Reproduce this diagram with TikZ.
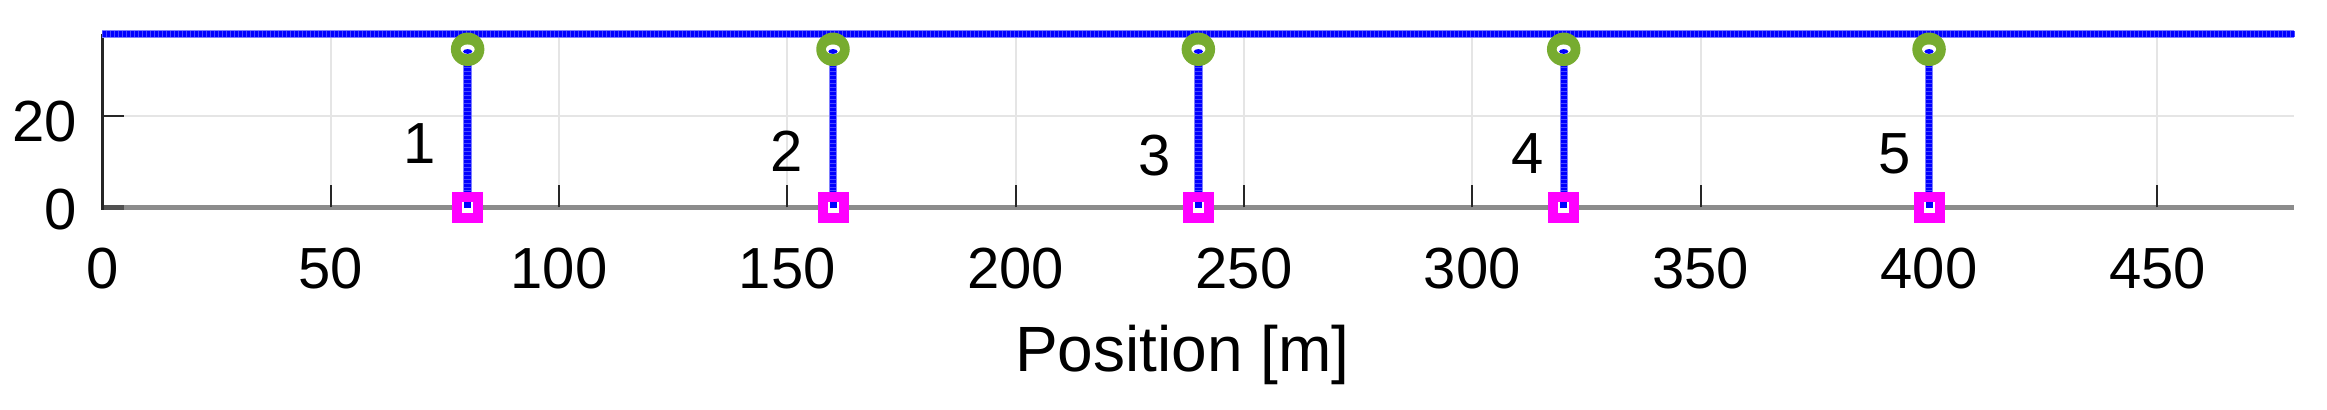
\documentclass[tikz,border=0pt]{standalone}
\usepackage{fontspec}
\setmainfont{Liberation Sans}
\usetikzlibrary{calc}
\definecolor{mgreen}{HTML}{77AC30}
\definecolor{mblue}{HTML}{0000FF}
\definecolor{mlblue}{HTML}{7F7FFF}
\definecolor{mmag}{HTML}{FF00FF}
\definecolor{mgrid}{HTML}{E5E5E5}
\definecolor{mground}{HTML}{8C8C8C}
\definecolor{maxis}{HTML}{262626}
\begin{document}
\begin{tikzpicture}[x=2.2835pt,y=2.2835pt,
  lbl/.style={font=\fontsize{29}{34}\selectfont, text=black, inner sep=0pt, anchor=base},
  ttl/.style={font=\fontsize{32}{38}\selectfont, text=black, inner sep=0pt, anchor=base},
  gridline/.style={draw=mgrid, line width=1pt},
  tickline/.style={draw=maxis, line width=1pt},
  bluehalo/.style={draw=mlblue, line width=4.2pt},
  bluecore/.style={draw=mblue, line width=3.2pt},
  bluetex/.style={draw=blue!72!white, line width=3.2pt, dash pattern=on 0.4pt off 1.6pt},
  topmark/.style={circle, fill=mgreen, minimum size=16.75pt, inner sep=0pt},
  botmark/.style={rectangle, fill=mmag, minimum size=15.5pt, inner sep=0pt}]
\useasboundingbox (-22.4,-44.17) rectangle (487.14,45.39);
% grid
\foreach \gx in {50,100,...,450} \draw[gridline] (\gx,0) -- (\gx,38);
\draw[gridline] (0,20) -- (480,20);
% ground line
\draw[draw=mground, line width=2.5pt] (0,0) -- (480,0);
% ticks
\foreach \gx in {50,100,...,450} \draw[tickline] (\gx,0) -- (\gx,4.8);
\draw[tickline] (0,20) -- (4.8,20);
\draw[draw=maxis!80!white, line width=2.5pt] (0,0) -- (4.8,0);
% left axis
\draw[draw=maxis, line width=1.5pt] (0,-0.55) -- (0,38);
% top wire
\coordinate (wl) at (0,38);
\coordinate (wr) at (480,38);
\draw[bluehalo] (wl) -- (wr);
\draw[bluecore] (wl) -- (wr);
\draw[bluetex] (wl) -- (wr);
% stems and markers
\foreach \i/\px in {1/80,2/160,3/240,4/320,5/400} {
  \coordinate (b\i) at (\px,0);
  \coordinate (t\i) at (\px,34.6);
  \draw[bluehalo] (b\i) -- (t\i);
  \draw[bluecore] (b\i) -- (t\i);
  \draw[bluetex] (b\i) -- (t\i);
  \node[botmark] (sq\i) at (b\i) {};
  \node[topmark] (ci\i) at (t\i) {};
  \fill[white] ($(sq\i.center)+(-2.75pt,-2.75pt)$) rectangle ($(sq\i.center)+(2.75pt,2.75pt)$);
  \fill[mblue] ($(sq\i.center)+(-1.75pt,-0.2pt)$) rectangle ($(sq\i.center)+(1.75pt,2.75pt)$);
  \fill[white] (ci\i.center) ellipse (3.5pt and 2.4pt);
  \fill[mblue] ($(ci\i.center)+(0,-1.1pt)$) ellipse (2.3pt and 1.2pt);
}
% cable numbers
\node[lbl] (n1) at (69.4,9.63) {1};
\node[lbl] (n2) at (149.9,7.8) {2};
\node[lbl] (n3) at (230.4,6.9) {3};
\node[lbl] (n4) at (312.1,7.3) {4};
\node[lbl] (n5) at (392.4,7.36) {5};
% x tick labels
\foreach \gx in {0,50,100,...,450} \node[lbl] (xl\gx) at (\gx,-17.74) {\gx};
% y tick labels
\node[lbl, anchor=base east] (yl20) at (-5.47,14.36) {20};
\node[lbl, anchor=base east] (yl0) at (-5.47,-4.97) {0};
% axis title
\node[ttl] (xt) at (236.5,-36.06) {Position [m]};
\end{tikzpicture}
\end{document}
